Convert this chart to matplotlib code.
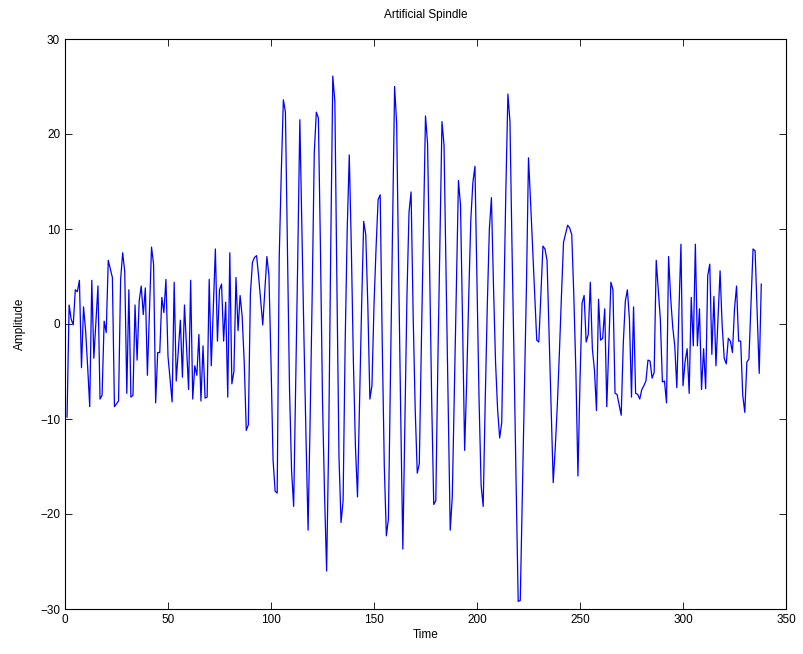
import numpy as np
import matplotlib
matplotlib.use("Agg")
import matplotlib.pyplot as plt

title = "Artificial Spindle"
x_label = "Time"
y_label = "Amplitude"

# amplitude samples, one per time step (1..338)
amplitude = [
    -9.8, 2.0, 0.5, -0.1, 3.6, 3.4, 4.6, -4.6, 1.8, -0.7,
    -4.5, -8.7, 4.6, -3.6, 0.2, 4.0, -7.9, -7.5, 0.3, -0.9,
    6.7, 5.8, 4.9, -8.7, -8.4, -8.1, 4.7, 7.5, 5.5, -7.3,
    3.6, -7.7, -7.5, 2.0, -3.8, 2.4, 4.0, 1.0, 3.8, -5.4,
    1.3, 8.1, 6.3, -8.3, -3.0, -3.0, 2.8, 1.2, 4.7, -3.4,
    -5.8, -8.2, 4.4, -6.0, -2.8, 0.4, -5.6, 2.0, -2.5, -6.9,
    4.6, -7.9, -4.4, -5.4, -1.1, -8.1, -2.3, -7.8, -7.7, 4.7,
    -4.4, 1.8, 7.9, -1.8, 3.6, 4.2, -1.8, 2.3, -7.7, 7.5,
    -6.3, -5.0, 4.9, -0.7, 3.0, 0.8, -4.0, -11.2, -10.6, 3.2,
    6.5, 7.0, 7.2, 5.0, 2.4, -0.1, 3.5, 7.1, 5.1, -4.0,
    -14.3, -17.6, -17.8, 7.1, 16.0, 23.6, 22.3, 8.0, -7.0, -15.5,
    -19.2, -6.0, 7.1, 21.5, 10.0, -1.5, -12.0, -21.7, -10.0, 3.2,
    18.0, 22.3, 21.7, 8.0, -8.0, -18.0, -26.0, -12.4, 8.0, 26.1,
    23.4, 4.0, -14.0, -20.9, -18.6, -2.0, 10.0, 17.8, 8.0, -4.0,
    -13.0, -18.2, -8.0, 2.0, 10.8, 9.4, 2.0, -7.9, -6.5, 2.0,
    8.0, 13.1, 13.6, -2.0, -15.0, -22.3, -20.5, -5.0, 10.0, 25.0,
    21.1, 5.0, -10.0, -23.7, -10.0, 3.0, 11.8, 13.9, 1.0, -9.0,
    -15.7, -14.7, -2.0, 10.0, 21.9, 19.0, 6.0, -8.0, -19.0, -18.6,
    -4.0, 9.0, 21.3, 18.8, 5.0, -8.0, -21.7, -18.2, -7.0, 4.0,
    15.1, 12.5, 0.0, -13.3, -6.0, 3.0, 11.0, 14.9, 16.6, 4.0,
    -8.0, -17.0, -19.2, -8.0, 2.0, 10.0, 13.3, 4.0, -4.0, -9.0,
    -12.0, -10.4, 2.0, 14.0, 24.2, 21.3, 8.0, -4.0, -17.0, -29.2,
    -29.1, -18.0, -7.0, 4.0, 17.5, 12.9, 8.0, 3.0, -1.7, -1.9,
    3.0, 8.2, 7.9, 6.7, -1.0, -9.0, -16.7, -13.0, -8.5, -3.0,
    3.0, 8.6, 9.5, 10.4, 10.1, 9.4, 3.0, -5.0, -16.0, -6.0,
    2.2, 3.0, -1.9, -1.1, 4.4, -2.6, -4.8, -9.1, 2.6, -1.7,
    -1.5, 1.6, -8.7, -2.0, 4.4, 3.6, -7.3, -7.4, -8.5, -9.6,
    -2.1, 2.4, 3.6, 0.5, -7.7, 1.8, -7.3, -7.4, -7.9, -6.9,
    -6.5, -6.0, -3.8, -3.9, -5.7, -5.1, 6.7, 3.6, 0.5, -6.1,
    -6.0, -8.3, 7.1, 2.8, -0.3, -2.3, -6.7, 1.2, 8.4, -6.5,
    -4.0, -2.6, -7.3, 2.8, -2.3, 8.4, -2.3, 1.6, -6.9, -2.6,
    -6.8, 5.1, 6.3, -3.2, 2.9, -4.4, 0.5, 5.6, -0.1, -3.6,
    -4.2, -1.5, -1.8, -3.0, 1.6, 4.0, -1.8, -1.8, -7.5, -9.3,
    -4.0, -3.7, 2.1, 7.9, 7.7, 1.2, -5.2, 4.2,
]
time = np.arange(1, len(amplitude) + 1)

x_ticks = [0, 50, 100, 150, 200, 250, 300, 350]
y_ticks = [-30, -20, -10, 0, 10, 20, 30]

plt.rcParams["font.family"] = ["Liberation Sans", "DejaVu Sans"]

fig = plt.figure(figsize=(8.04, 6.54), dpi=100)
ax = fig.add_axes([65 / 804, 1 - 609 / 654, 721 / 804, 570 / 654])
ax.plot(time, amplitude, color="#0000ff", linewidth=0.9)

ax.set_xlim(0, 350)
ax.set_ylim(-30, 30)
ax.set_xticks(x_ticks)
ax.set_yticks(y_ticks)
ax.tick_params(direction="in", top=True, right=True, length=5, width=0.6, labelsize=8.5)
for spine in ax.spines.values():
    spine.set_linewidth(0.8)

ax.set_title(title, fontsize=8.5, pad=15)
ax.set_xlabel(x_label, fontsize=8.5, labelpad=2)
ax.set_ylabel(y_label, fontsize=8.5, labelpad=10)

fig.savefig("out.png", dpi=100)
plt.close(fig)
